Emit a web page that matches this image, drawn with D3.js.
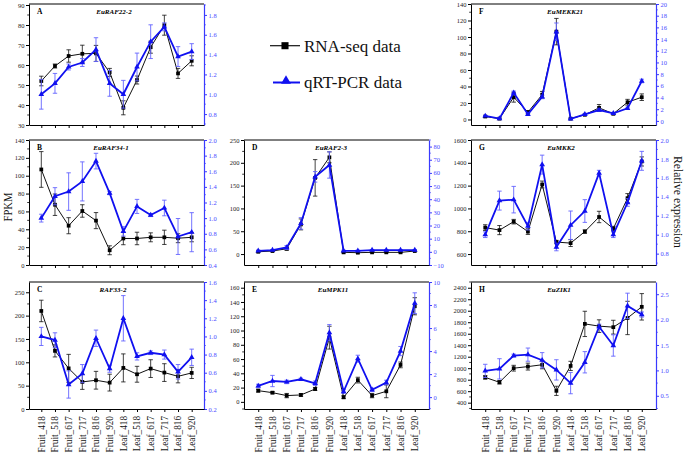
<!DOCTYPE html>
<html><head><meta charset="utf-8">
<script src="https://cdn.jsdelivr.net/npm/d3@7"></script>
<style>body{margin:0;background:#fff}svg{display:block}svg text{font-family:'Liberation Serif','Times New Roman','DejaVu Serif',serif !important}</style>
</head><body><svg id="c" width="685" height="456" font-family="Liberation Serif, Times New Roman, DejaVu Serif, serif"></svg>
<script>
const categories = ["Fruit_418","Fruit_518","Fruit_617","Fruit_717","Fruit_816","Fruit_920","Leaf_418","Leaf_518","Leaf_617","Leaf_717","Leaf_816","Leaf_920"];
const seriesNames = ["RNA-seq data", "qRT-PCR data"];
const axisTitles = ["FPKM", "Relative expression"];

// A EuRAF22-2
const rnaA = [52, 59.5, 64.5, 65.6, 65.8, 56.3, 38.6, 52.5, 68.9, 79.9, 55.8, 62.1];
const rnaAErr = [2.4, 1, 3.1, 4.3, 4, 2, 3.5, 2, 3, 5, 2.5, 2.5];
const qpcrA = [1.0, 1.11, 1.275, 1.32, 1.45, 1.11, 1.0, 1.275, 1.53, 1.68, 1.38, 1.43];
const qpcrAErr = [0.15, 0.1, 0.03, 0.04, 0.12, 0.13, 0.14, 0.14, 0.17, 0.04, 0.1, 0.08];
const leftTicksA = [30, 40, 50, 60, 70, 80, 90];
const rightTicksA = [0.8, 1.0, 1.2, 1.4, 1.6, 1.8];
// B EuRAF34-1
const rnaB = [107, 67.5, 44, 60.5, 49.7, 16.5, 29.7, 29.7, 31, 31, 30, 31];
const rnaBErr = [20, 12, 9, 7, 9, 5, 7, 7, 5, 8, 5, 5];
const qpcrB = [1.0, 1.28, 1.34, 1.47, 1.73, 1.32, 0.83, 1.15, 1.04, 1.13, 0.765, 0.82];
const qpcrBErr = [0.05, 0.11, 0.24, 0.25, 0.1, 0.02, 0.06, 0.09, 0.02, 0.1, 0.23, 0.25];
const leftTicksB = [0, 20, 40, 60, 80, 100, 120, 140];
const rightTicksB = [0.4, 0.6, 0.8, 1.0, 1.2, 1.4, 1.6, 1.8, 2.0];
// C RAF33-2
const rnaC = [210, 124.5, 87, 58, 61.6, 56.5, 88, 74.4, 86.5, 78, 70, 77.3];
const rnaCErr = [23, 13, 30, 16, 19, 18, 30, 17, 19, 19, 14, 12];
const qpcrC = [1.0, 0.96, 0.47, 0.59, 0.98, 0.645, 1.2, 0.78, 0.82, 0.8, 0.61, 0.77];
const qpcrCErr = [0.1, 0.08, 0.15, 0.1, 0.09, 0.04, 0.25, 0.04, 0.02, 0.05, 0.08, 0.09];
const leftTicksC = [0, 50, 100, 150, 200, 250];
const rightTicksC = [0.2, 0.4, 0.6, 0.8, 1.0, 1.2, 1.4, 1.6];
// D EuRAF2-3
const rnaD = [5, 6.6, 11.6, 65, 167, 212, 3.7, 3, 3.7, 3.7, 3.7, 6.6];
const rnaDErr = [1, 1, 3, 12, 40, 12, 1, 1, 1, 1, 1, 1];
const qpcrD = [0.8, 1.3, 3.3, 21.6, 57, 66, 0.8, 0.8, 1.3, 1.3, 1.3, 1.3];
const qpcrDErr = [0.5, 0.5, 1.5, 4.4, 4, 10, 0.5, 0.5, 0.5, 0.5, 0.5, 0.5];
const leftTicksD = [0, 50, 100, 150, 200, 250];
const rightTicksD = [-10, 0, 10, 20, 30, 40, 50, 60, 70, 80];
// E EuMPK11
const rnaE = [15.7, 12.9, 8.8, 9.7, 18, 90, 6.5, 30.5, 8.8, 14.8, 51.8, 134];
const rnaEErr = [2, 1.5, 3, 2, 2, 16, 2, 4, 3, 9, 4, 12];
const qpcrE = [0.97, 1.4, 1.32, 1.55, 1.2, 5.6, 0.49, 3.34, 0.63, 1.27, 4.0, 8.16];
const qpcrEErr = [0.15, 0.49, 0.15, 0.1, 0.2, 0.7, 0.15, 0.3, 0.15, 0.2, 0.4, 0.9];
const leftTicksE = [0, 20, 40, 60, 80, 100, 120, 140, 160];
const rightTicksE = [0, 2, 4, 6, 8, 10];
// F EuMEKK21
const rnaF = [3.6, 1, 27, 8.8, 30, 106.5, 1, 5.7, 14.1, 6.9, 20.9, 27];
const rnaFErr = [1, 0.5, 6, 2, 4, 16, 0.5, 1, 4, 1, 3.5, 4];
const qpcrF = [0.85, 0.4, 4.8, 1.13, 4.1, 15.25, 0.34, 1.13, 1.86, 1.3, 2.15, 6.83];
const qpcrFErr = [0.1, 0.1, 0.3, 0.2, 0.3, 1.5, 0.1, 0.1, 0.2, 0.1, 0.2, 0.3];
const leftTicksF = [0, 20, 40, 60, 80, 100, 120, 140];
const rightTicksF = [0, 2, 4, 6, 8, 10, 12, 14, 16, 18, 20];
// G EuMKK2
const rnaG = [832, 810, 884, 797, 1210, 705, 696, 797, 925, 823, 1090, 1412];
const rnaGErr = [25, 40, 20, 25, 30, 15, 30, 15, 50, 20, 40, 40];
const qpcrG = [1.0, 1.36, 1.37, 1.09, 1.74, 0.87, 1.1, 1.25, 1.65, 1.0, 1.34, 1.78];
const qpcrGErr = [0.03, 0.1, 0.14, 0.04, 0.1, 0.04, 0.15, 0.12, 0.03, 0.03, 0.04, 0.1];
const leftTicksG = [600, 800, 1000, 1200, 1400, 1600];
const rightTicksG = [0.8, 1.0, 1.2, 1.4, 1.6, 1.8, 2.0];
// H EuZIK1
const rnaH = [840, 755, 1000, 1028, 1060, 606, 1040, 1771, 1732, 1714, 1874, 2068];
const rnaHErr = [30, 30, 50, 60, 70, 80, 80, 220, 110, 120, 290, 230];
const qpcrH = [0.99, 1.03, 1.29, 1.31, 1.2, 1.01, 0.75, 1.16, 1.86, 1.49, 2.27, 2.1];
const qpcrHErr = [0.13, 0.2, 0.03, 0.13, 0.15, 0.2, 0.21, 0.21, 0.05, 0.21, 0.25, 0.05];
const leftTicksH = [400, 600, 800, 1000, 1200, 1400, 1600, 1800, 2000, 2200, 2400];
const rightTicksH = [0.5, 1.0, 1.5, 2.0, 2.5];

const FONT = "Liberation Serif, Times New Roman, DejaVu Serif, serif";
const BLUE = "#1010f0", BLUE_AX = "#3a3aff", BLUE_ERR = "#6464ff";

const panels = [
  {letter:"A", title:"EuRAF22-2", x0:29, x1:204, y0:4, y1:125, pad:0.9, tx:114, ld:[30,90.5], rd:[0.69,1.91], lt:leftTicksA, rt:rightTicksA, rf:".1f", rna:rnaA, rnaE:rnaAErr, q:qpcrA, qE:qpcrAErr},
  {letter:"B", title:"EuRAF34-1", x0:29, x1:204, y0:140, y1:265, pad:0.9, tx:111, ld:[0,140], rd:[0.4,2.0], lt:leftTicksB, rt:rightTicksB, rf:".1f", rna:rnaB, rnaE:rnaBErr, q:qpcrB, qE:qpcrBErr},
  {letter:"C", title:"RAF33-2", x0:29, x1:204, y0:282, y1:409, pad:0.9, tx:113, ld:[0,272], rd:[0.2,1.6], lt:leftTicksC, rt:rightTicksC, rf:".1f", rna:rnaC, rnaE:rnaCErr, q:qpcrC, qE:qpcrCErr, labels:true},
  {letter:"D", title:"EuRAF2-3", x0:244, x1:429, y0:140, y1:265, pad:1, tx:331, ld:[-24,250], rd:[-10,85], lt:leftTicksD, rt:rightTicksD, rf:"d", rna:rnaD, rnaE:rnaDErr, q:qpcrD, qE:qpcrDErr},
  {letter:"E", title:"EuMPK11", x0:244, x1:429, y0:282, y1:409, pad:1, tx:333, ld:[-10,168], rd:[-1.03,10], lt:leftTicksE, rt:rightTicksE, rf:"d", rna:rnaE, rnaE:rnaEErr, q:qpcrE, qE:qpcrEErr, labels:true},
  {letter:"F", title:"EuMEKK21", x0:471, x1:656, y0:4, y1:125, pad:1, tx:565, ld:[-6.7,140], rd:[-0.7,20], lt:leftTicksF, rt:rightTicksF, rf:"d", rna:rnaF, rnaE:rnaFErr, q:qpcrF, qE:qpcrFErr},
  {letter:"G", title:"EuMKK2", x0:471, x1:656, y0:140, y1:265, pad:1, tx:561, ld:[504,1600], rd:[0.68,2.0], lt:leftTicksG, rt:rightTicksG, rf:".1f", rna:rnaG, rnaE:rnaGErr, q:qpcrG, qE:qpcrGErr},
  {letter:"H", title:"EuZIK1", x0:471, x1:656, y0:282, y1:409, pad:1, tx:559, ld:[290,2500], rd:[0.24,2.74], lt:leftTicksH, rt:rightTicksH, rf:".1f", rna:rnaH, rnaE:rnaHErr, q:qpcrH, qE:qpcrHErr, labels:true}
];

const svg = d3.select("#c");

function minors(ticks, dom) {
  const out = [];
  const st = ticks[1] - ticks[0];
  const lo = Math.min(dom[0], dom[1]), hi = Math.max(dom[0], dom[1]);
  for (let i = -1; i < ticks.length; i++) {
    const m = (i < 0 ? ticks[0] - st / 2 : ticks[i] + st / 2);
    if (m >= lo && m <= hi) out.push(m);
  }
  return out;
}

panels.forEach(p => {
  const g = svg.append("g");
  const x = d3.scalePoint().domain(categories).range([p.x0, p.x1]).padding(p.pad);
  const yl = d3.scaleLinear().domain(p.ld).range([p.y1, p.y0]);
  const yr = d3.scaleLinear().domain(p.rd).range([p.y1, p.y0]);

  g.append("line").attr("x1", p.x0).attr("x2", p.x1).attr("y1", p.y0).attr("y2", p.y0)
    .attr("stroke", "#000").attr("stroke-width", 1);

  const la = g.append("g").attr("transform", `translate(${p.x0},0)`)
    .call(d3.axisLeft(yl).tickValues(p.lt).tickSize(3).tickSizeOuter(0).tickPadding(1.5).tickFormat(d3.format("d")));
  la.attr("font-family", FONT);
  la.select(".domain").attr("stroke", "#000");
  la.selectAll("text").attr("font-size", 6.5).attr("font-family", FONT).attr("fill", "#222");
  la.selectAll(".tick line").attr("stroke", "#000");
  minors(p.lt, p.ld).forEach(m => g.append("line").attr("x1", p.x0 - 1.8).attr("x2", p.x0)
    .attr("y1", yl(m)).attr("y2", yl(m)).attr("stroke", "#000").attr("stroke-width", 0.8));

  const ra = g.append("g").attr("transform", `translate(${p.x1},0)`)
    .call(d3.axisRight(yr).tickValues(p.rt).tickSize(3).tickSizeOuter(0).tickPadding(1.5).tickFormat(d3.format(p.rf)));
  ra.attr("font-family", FONT);
  ra.select(".domain").attr("stroke", BLUE_AX).attr("stroke-width", 1.2);
  ra.selectAll(".tick line").attr("stroke", BLUE_AX);
  ra.selectAll("text").attr("font-size", 6.5).attr("font-family", FONT).attr("fill", "#4a4aff");
  minors(p.rt, p.rd).forEach(m => g.append("line").attr("x1", p.x1).attr("x2", p.x1 + 1.8)
    .attr("y1", yr(m)).attr("y2", yr(m)).attr("stroke", BLUE_AX).attr("stroke-width", 0.8));

  const ba = g.append("g").attr("transform", `translate(0,${p.y1})`)
    .call(d3.axisBottom(x).tickSize(3).tickSizeOuter(0).tickFormat(""));
  ba.select(".domain").attr("stroke", "#000");
  ba.selectAll(".tick line").attr("stroke", "#000");

  if (p.labels) {
    categories.forEach(c => {
      g.append("text").attr("transform", `translate(${x(c) + 3.3},${p.y1 + 7}) rotate(-90) scale(0.88,1)`)
        .attr("text-anchor", "end").attr("font-size", 10.5).attr("font-family", FONT).attr("fill", "#111").text(c);
    });
  }

  g.append("text").attr("x", p.tx).attr("y", p.y0 + 9.5).attr("text-anchor", "middle").attr("font-family", FONT)
    .attr("font-size", 7).attr("font-weight", "bold").attr("font-style", "italic").text(p.title);
  g.append("text").attr("x", p.x0 + 8).attr("y", p.y0 + 10).attr("font-size", 7.5).attr("font-family", FONT)
    .attr("font-weight", "bold").text(p.letter);

  p.rna.forEach((v, i) => {
    const cx = x(categories[i]), e = p.rnaE[i];
    g.append("line").attr("x1", cx).attr("x2", cx).attr("y1", yl(v - e)).attr("y2", yl(v + e)).attr("stroke", "#111").attr("stroke-width", 0.8);
    [v - e, v + e].forEach(w => g.append("line").attr("x1", cx - 2.2).attr("x2", cx + 2.2).attr("y1", yl(w)).attr("y2", yl(w)).attr("stroke", "#111").attr("stroke-width", 0.8));
  });
  g.append("path").datum(p.rna).attr("fill", "none").attr("stroke", "#111").attr("stroke-width", 1)
    .attr("d", d3.line().x((d, i) => x(categories[i])).y(d => yl(d)));
  g.selectAll(null).data(p.rna).enter().append("path")
    .attr("transform", (d, i) => `translate(${x(categories[i])},${yl(d)})`)
    .attr("d", d3.symbol(d3.symbolSquare, 14)).attr("fill", "#000");

  p.q.forEach((v, i) => {
    const cx = x(categories[i]), e = p.qE[i];
    g.append("line").attr("x1", cx).attr("x2", cx).attr("y1", yr(v - e)).attr("y2", yr(v + e)).attr("stroke", BLUE_ERR).attr("stroke-width", 0.9);
    [v - e, v + e].forEach(w => g.append("line").attr("x1", cx - 2.2).attr("x2", cx + 2.2).attr("y1", yr(w)).attr("y2", yr(w)).attr("stroke", BLUE_ERR).attr("stroke-width", 0.9));
  });
  g.append("path").datum(p.q).attr("fill", "none").attr("stroke", BLUE).attr("stroke-width", 1.8)
    .attr("d", d3.line().x((d, i) => x(categories[i])).y(d => yr(d)));
  g.selectAll(null).data(p.q).enter().append("path")
    .attr("transform", (d, i) => `translate(${x(categories[i])},${yr(d)})`)
    .attr("d", d3.symbol(d3.symbolTriangle, 14)).attr("fill", BLUE);
});

svg.append("text").attr("transform", "translate(11.5,207) rotate(-90) scale(0.82,1)").attr("font-family", FONT)
  .attr("text-anchor", "middle").attr("font-size", 13).attr("fill", "#111").text(axisTitles[0]);
svg.append("text").attr("transform", "translate(674,202) rotate(90) scale(0.9,1)").attr("font-family", FONT)
  .attr("text-anchor", "middle").attr("font-size", 13).attr("fill", "#111").text(axisTitles[1]);

const lg = svg.append("g");
lg.append("line").attr("x1", 270).attr("x2", 300).attr("y1", 45.7).attr("y2", 45.7).attr("stroke", "#111").attr("stroke-width", 1.2);
lg.append("path").attr("transform", "translate(285,45.7)").attr("d", d3.symbol(d3.symbolSquare, 50)).attr("fill", "#000");
lg.append("text").attr("x", 304).attr("y", 51.5).attr("font-size", 17).attr("font-family", FONT).attr("fill", "#111").text(seriesNames[0]);
lg.append("line").attr("x1", 273).attr("x2", 300).attr("y1", 82.5).attr("y2", 82.5).attr("stroke", BLUE).attr("stroke-width", 2);
lg.append("path").attr("transform", "translate(286,81)").attr("d", d3.symbol(d3.symbolTriangle, 42)).attr("fill", BLUE);
lg.append("text").attr("x", 304).attr("y", 88).attr("font-size", 17).attr("font-family", FONT).attr("fill", "#111").text(seriesNames[1]);
</script></body></html>
